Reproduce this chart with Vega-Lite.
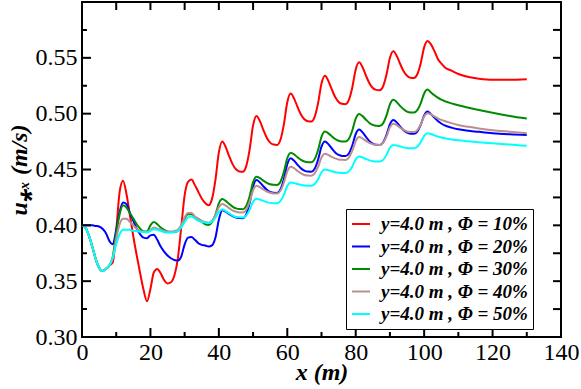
{
  "$schema": "https://vega.github.io/schema/vega-lite/v6.json",
  "width": 479,
  "height": 335,
  "autosize": "none",
  "padding": {"left": 82, "top": 2, "right": 20, "bottom": 52},
  "background": "white",
  "config": {
    "view": {"stroke": "black", "strokeWidth": 2},
    "font": "Liberation Serif",
    "scale": {"continuousPadding": 0},
    "axis": {"grid": false, "domain": false, "ticks": false, "labelColor": "black", "labelFont": "Liberation Serif", "labelFontSize": 24, "titleColor": "black", "titleFont": "Liberation Serif", "titleFontSize": 24, "titleFontWeight": "bold", "titleFontStyle": "italic"}
  },
  "datasets": {
    "series": [
      {"x":0,"p10":0.400,"p20":0.400,"p30":0.400,"p40":0.400,"p50":0.400},
      {"x":1,"p10":0.398,"p20":0.400,"p30":0.398,"p40":0.398,"p50":0.398},
      {"x":2,"p10":0.391,"p20":0.400,"p30":0.391,"p40":0.391,"p50":0.391},
      {"x":3,"p10":0.381,"p20":0.400,"p30":0.381,"p40":0.381,"p50":0.381},
      {"x":4,"p10":0.370,"p20":0.3995,"p30":0.370,"p40":0.370,"p50":0.370},
      {"x":5,"p10":0.362,"p20":0.399,"p30":0.362,"p40":0.362,"p50":0.362},
      {"x":6,"p10":0.359,"p20":0.397,"p30":0.359,"p40":0.359,"p50":0.359},
      {"x":7,"p10":0.361,"p20":0.393,"p30":0.361,"p40":0.361,"p50":0.361},
      {"x":8,"p10":0.364,"p20":0.386,"p30":0.364,"p40":0.364,"p50":0.364},
      {"x":9,"p10":0.367,"p20":0.383,"p30":0.372,"p40":0.371,"p50":0.371},
      {"x":10,"p10":0.395,"p20":0.396,"p30":0.393,"p40":0.388,"p50":0.383},
      {"x":11,"p10":0.430,"p20":0.412,"p30":0.410,"p40":0.401,"p50":0.392},
      {"x":12,"p10":0.440,"p20":0.4205,"p30":0.418,"p40":0.406,"p50":0.396},
      {"x":13,"p10":0.428,"p20":0.419,"p30":0.416,"p40":0.406,"p50":0.396},
      {"x":14,"p10":0.409,"p20":0.411,"p30":0.411,"p40":0.403,"p50":0.396},
      {"x":15,"p10":0.390,"p20":0.404,"p30":0.406,"p40":0.400,"p50":0.395},
      {"x":16,"p10":0.373,"p20":0.397,"p30":0.401,"p40":0.397,"p50":0.395},
      {"x":17,"p10":0.357,"p20":0.392,"p30":0.397,"p40":0.395,"p50":0.394},
      {"x":18,"p10":0.342,"p20":0.389,"p30":0.3945,"p40":0.394,"p50":0.394},
      {"x":19,"p10":0.332,"p20":0.3885,"p30":0.3945,"p40":0.394,"p50":0.3935},
      {"x":20,"p10":0.343,"p20":0.391,"p30":0.400,"p40":0.396,"p50":0.395},
      {"x":21,"p10":0.358,"p20":0.3915,"p30":0.403,"p40":0.398,"p50":0.3965},
      {"x":22,"p10":0.361,"p20":0.387,"p30":0.401,"p40":0.397,"p50":0.396},
      {"x":23,"p10":0.357,"p20":0.381,"p30":0.398,"p40":0.396,"p50":0.395},
      {"x":24,"p10":0.351,"p20":0.3765,"p30":0.396,"p40":0.395,"p50":0.394},
      {"x":25,"p10":0.348,"p20":0.373,"p30":0.3945,"p40":0.3945,"p50":0.3935},
      {"x":26,"p10":0.349,"p20":0.3705,"p30":0.394,"p40":0.3945,"p50":0.3935},
      {"x":27,"p10":0.355,"p20":0.369,"p30":0.394,"p40":0.395,"p50":0.394},
      {"x":28,"p10":0.370,"p20":0.3685,"p30":0.395,"p40":0.396,"p50":0.395},
      {"x":29,"p10":0.398,"p20":0.372,"p30":0.399,"p40":0.400,"p50":0.398},
      {"x":30,"p10":0.427,"p20":0.383,"p30":0.406,"p40":0.407,"p50":0.403},
      {"x":31,"p10":0.439,"p20":0.389,"p30":0.410,"p40":0.411,"p50":0.407},
      {"x":32,"p10":0.441,"p20":0.3895,"p30":0.410,"p40":0.411,"p50":0.408},
      {"x":33,"p10":0.436,"p20":0.387,"p30":0.4075,"p40":0.408,"p50":0.406},
      {"x":34,"p10":0.430,"p20":0.384,"p30":0.405,"p40":0.406,"p50":0.404},
      {"x":35,"p10":0.424,"p20":0.3825,"p30":0.403,"p40":0.404,"p50":0.403},
      {"x":36,"p10":0.420,"p20":0.382,"p30":0.401,"p40":0.403,"p50":0.4025},
      {"x":37,"p10":0.418,"p20":0.381,"p30":0.4004,"p40":0.4024,"p50":0.402},
      {"x":38,"p10":0.4237,"p20":0.382,"p30":0.4027,"p40":0.4041,"p50":0.4032},
      {"x":39,"p10":0.4408,"p20":0.389,"p30":0.4096,"p40":0.409,"p50":0.4068},
      {"x":40,"p10":0.4653,"p20":0.405,"p30":0.4196,"p40":0.4162,"p50":0.4120},
      {"x":41,"p10":0.475,"p20":0.4135,"p30":0.4235,"p40":0.419,"p50":0.4141},
      {"x":42,"p10":0.4701,"p20":0.4122,"p30":0.4219,"p40":0.4177,"p50":0.4128},
      {"x":43,"p10":0.462,"p20":0.4101,"p30":0.4192,"p40":0.4154,"p50":0.4107},
      {"x":44,"p10":0.4548,"p20":0.4082,"p30":0.4168,"p40":0.4134,"p50":0.4088},
      {"x":45,"p10":0.4502,"p20":0.4070,"p30":0.4152,"p40":0.4121,"p50":0.4075},
      {"x":46,"p10":0.4483,"p20":0.4065,"p30":0.4146,"p40":0.4116,"p50":0.4072},
      {"x":47,"p10":0.448,"p20":0.4064,"p30":0.4145,"p40":0.4115,"p50":0.4071},
      {"x":48,"p10":0.453,"p20":0.4098,"p30":0.4174,"p40":0.4139,"p50":0.4088},
      {"x":49,"p10":0.468,"p20":0.420,"p30":0.4261,"p40":0.4211,"p50":0.4138},
      {"x":50,"p10":0.4895,"p20":0.4347,"p30":0.4387,"p40":0.4314,"p50":0.4210},
      {"x":51,"p10":0.498,"p20":0.4405,"p30":0.4436,"p40":0.4355,"p50":0.4238},
      {"x":52,"p10":0.4933,"p20":0.4384,"p30":0.4423,"p40":0.4342,"p50":0.4231},
      {"x":53,"p10":0.4855,"p20":0.4350,"p30":0.4400,"p40":0.4321,"p50":0.4219},
      {"x":54,"p10":0.4785,"p20":0.4319,"p30":0.4381,"p40":0.4303,"p50":0.4208},
      {"x":55,"p10":0.4741,"p20":0.4299,"p30":0.4368,"p40":0.4291,"p50":0.4201},
      {"x":56,"p10":0.4723,"p20":0.4291,"p30":0.4363,"p40":0.4286,"p50":0.4198},
      {"x":57,"p10":0.472,"p20":0.429,"p30":0.4362,"p40":0.4285,"p50":0.4198},
      {"x":58,"p10":0.4766,"p20":0.4321,"p30":0.4391,"p40":0.4309,"p50":0.4217},
      {"x":59,"p10":0.4904,"p20":0.4414,"p30":0.4477,"p40":0.4381,"p50":0.4272},
      {"x":60,"p10":0.5102,"p20":0.4547,"p30":0.4601,"p40":0.4484,"p50":0.4352},
      {"x":61,"p10":0.518,"p20":0.460,"p30":0.465,"p40":0.4525,"p50":0.4383},
      {"x":62,"p10":0.5135,"p20":0.4578,"p30":0.4635,"p40":0.4511,"p50":0.4378},
      {"x":63,"p10":0.506,"p20":0.4542,"p30":0.4609,"p40":0.4487,"p50":0.437},
      {"x":64,"p10":0.4993,"p20":0.451,"p30":0.4586,"p40":0.4465,"p50":0.4362},
      {"x":65,"p10":0.495,"p20":0.449,"p30":0.4572,"p40":0.4451,"p50":0.4357},
      {"x":66,"p10":0.4933,"p20":0.4481,"p30":0.4566,"p40":0.4446,"p50":0.4355},
      {"x":67,"p10":0.493,"p20":0.448,"p30":0.4565,"p40":0.4445,"p50":0.4355},
      {"x":68,"p10":0.4971,"p20":0.4507,"p30":0.4593,"p40":0.4465,"p50":0.437},
      {"x":69,"p10":0.5094,"p20":0.4588,"p30":0.4675,"p40":0.4523,"p50":0.4413},
      {"x":70,"p10":0.527,"p20":0.4704,"p30":0.4793,"p40":0.4607,"p50":0.4475},
      {"x":71,"p10":0.534,"p20":0.475,"p30":0.484,"p40":0.464,"p50":0.450},
      {"x":72,"p10":0.5294,"p20":0.4727,"p30":0.4824,"p40":0.463,"p50":0.4494},
      {"x":73,"p10":0.5218,"p20":0.4688,"p30":0.4797,"p40":0.4614,"p50":0.4485},
      {"x":74,"p10":0.5149,"p20":0.4653,"p30":0.4773,"p40":0.46,"p50":0.4476},
      {"x":75,"p10":0.5105,"p20":0.463,"p30":0.4757,"p40":0.459,"p50":0.4471},
      {"x":76,"p10":0.5088,"p20":0.4621,"p30":0.4751,"p40":0.4587,"p50":0.4468},
      {"x":77,"p10":0.5085,"p20":0.462,"p30":0.475,"p40":0.4586,"p50":0.4468},
      {"x":78,"p10":0.5123,"p20":0.4644,"p30":0.4775,"p40":0.4606,"p50":0.4483},
      {"x":79,"p10":0.5235,"p20":0.4715,"p30":0.4849,"p40":0.4668,"p50":0.4527},
      {"x":80,"p10":0.5396,"p20":0.4818,"p30":0.4955,"p40":0.4755,"p50":0.4591},
      {"x":81,"p10":0.546,"p20":0.4858,"p30":0.4997,"p40":0.479,"p50":0.4616},
      {"x":82,"p10":0.5415,"p20":0.4833,"p30":0.4978,"p40":0.4777,"p50":0.4608},
      {"x":83,"p10":0.534,"p20":0.4792,"p30":0.4946,"p40":0.4756,"p50":0.4594},
      {"x":84,"p10":0.5273,"p20":0.4754,"p30":0.4917,"p40":0.4738,"p50":0.4582},
      {"x":85,"p10":0.523,"p20":0.4731,"p30":0.4899,"p40":0.4726,"p50":0.4575},
      {"x":86,"p10":0.5213,"p20":0.4721,"p30":0.4891,"p40":0.4721,"p50":0.4571},
      {"x":87,"p10":0.521,"p20":0.472,"p30":0.489,"p40":0.472,"p50":0.4571},
      {"x":88,"p10":0.5245,"p20":0.4742,"p30":0.4913,"p40":0.4739,"p50":0.4586},
      {"x":89,"p10":0.535,"p20":0.481,"p30":0.4984,"p40":0.4796,"p50":0.4631},
      {"x":90,"p10":0.5501,"p20":0.4906,"p30":0.5084,"p40":0.4878,"p50":0.4695},
      {"x":91,"p10":0.556,"p20":0.4944,"p30":0.5124,"p40":0.491,"p50":0.472},
      {"x":92,"p10":0.5517,"p20":0.4922,"p30":0.5103,"p40":0.4897,"p50":0.4715},
      {"x":93,"p10":0.5445,"p20":0.4884,"p30":0.5069,"p40":0.4874,"p50":0.4706},
      {"x":94,"p10":0.538,"p20":0.4851,"p30":0.5039,"p40":0.4854,"p50":0.4698},
      {"x":95,"p10":0.5339,"p20":0.483,"p30":0.5019,"p40":0.4841,"p50":0.4692},
      {"x":96,"p10":0.5322,"p20":0.4821,"p30":0.5011,"p40":0.4836,"p50":0.469},
      {"x":97,"p10":0.532,"p20":0.482,"p30":0.501,"p40":0.4835,"p50":0.469},
      {"x":98,"p10":0.5353,"p20":0.484,"p30":0.5031,"p40":0.4852,"p50":0.4704},
      {"x":99,"p10":0.5452,"p20":0.490,"p30":0.5092,"p40":0.4903,"p50":0.4744},
      {"x":100,"p10":0.5594,"p20":0.4985,"p30":0.5181,"p40":0.4975,"p50":0.4802},
      {"x":101,"p10":0.565,"p20":0.5019,"p30":0.5216,"p40":0.5004,"p50":0.4825},
      {"x":102,"p10":0.562,"p20":0.4995,"p30":0.519,"p40":0.4993,"p50":0.4818},
      {"x":103,"p10":0.556,"p20":0.4965,"p30":0.5165,"p40":0.4975,"p50":0.4806},
      {"x":104,"p10":0.549,"p20":0.4935,"p30":0.5143,"p40":0.4958,"p50":0.4795},
      {"x":105,"p10":0.545,"p20":0.4912,"p30":0.5125,"p40":0.4945,"p50":0.4786},
      {"x":106,"p10":0.5415,"p20":0.4895,"p30":0.5112,"p40":0.4934,"p50":0.4779},
      {"x":108,"p10":0.5385,"p20":0.4875,"p30":0.5092,"p40":0.4915,"p50":0.4769},
      {"x":110,"p10":0.5355,"p20":0.486,"p30":0.5075,"p40":0.4898,"p50":0.4761},
      {"x":113,"p10":0.5328,"p20":0.4847,"p30":0.5053,"p40":0.4882,"p50":0.4752},
      {"x":116,"p10":0.5313,"p20":0.4837,"p30":0.5033,"p40":0.4868,"p50":0.4744},
      {"x":120,"p10":0.5303,"p20":0.4825,"p30":0.5008,"p40":0.4852,"p50":0.4735},
      {"x":125,"p10":0.5303,"p20":0.4816,"p30":0.498,"p40":0.4838,"p50":0.4723},
      {"x":130,"p10":0.5309,"p20":0.481,"p30":0.4956,"p40":0.4825,"p50":0.4712}
    ],
    "xmaj": [{"t":20},{"t":40},{"t":60},{"t":80},{"t":100},{"t":120}],
    "xmin": [{"t":10},{"t":30},{"t":50},{"t":70},{"t":90},{"t":110},{"t":130}],
    "xall": [{"t":10},{"t":20},{"t":30},{"t":40},{"t":50},{"t":60},{"t":70},{"t":80},{"t":90},{"t":100},{"t":110},{"t":120},{"t":130}],
    "ymaj": [{"t":0.35},{"t":0.4},{"t":0.45},{"t":0.5},{"t":0.55}],
    "ymin": [{"t":0.325},{"t":0.375},{"t":0.425},{"t":0.475},{"t":0.525},{"t":0.575}],
    "yall": [{"t":0.325},{"t":0.35},{"t":0.375},{"t":0.4},{"t":0.425},{"t":0.45},{"t":0.475},{"t":0.5},{"t":0.525},{"t":0.55},{"t":0.575}]
  },
  "layer": [
    {
      "data": {"name": "series"},
      "transform": [{"fold": ["p10", "p20", "p30", "p40", "p50"], "as": ["series", "u"]}],
      "mark": {"type": "line", "interpolate": "monotone", "strokeWidth": 2},
      "encoding": {
        "x": {"field": "x", "type": "quantitative", "title": "x (m)", "scale": {"domain": [0, 140], "nice": false, "padding": 0},
              "axis": {"orient": "bottom", "values": [0, 20, 40, 60, 80, 100, 120, 140], "labelPadding": 3, "labelFlush": false, "titleY": 23, "titleBaseline": "top"}},
        "y": {"field": "u", "type": "quantitative", "title": "u⁎ₓ (m/s)", "scale": {"domain": [0.3, 0.6], "nice": false, "zero": false, "padding": 0},
              "axis": {"orient": "left", "values": [0.3, 0.35, 0.4, 0.45, 0.5, 0.55], "format": ".2f", "labelPadding": 5, "labelFlush": false, "titlePadding": 4}},
        "color": {"field": "series", "type": "nominal",
                  "scale": {"domain": ["p10", "p20", "p30", "p40", "p50"], "range": ["#ff0000", "#0000ff", "#008b00", "#bc8f8f", "#00ffff"]},
                  "legend": {"title": null, "orient": "none", "legendX": 264, "legendY": 207,
                             "labelExpr": "'y=4.0 m , Φ = ' + substring(datum.label, 1) + '%'",
                             "labelFont": "Liberation Serif", "labelFontSize": 19, "labelFontWeight": "bold", "labelFontStyle": "italic", "labelColor": "black", "labelLimit": 300,
                             "symbolType": "stroke", "symbolStrokeWidth": 2, "symbolSize": 324, "labelOffset": 10,
                             "strokeColor": "black", "fillColor": "white", "padding": 5, "rowPadding": 2.5}}
      }
    },
    {
      "data": {"name": "xmaj"},
      "mark": {"type": "tick", "orient": "vertical", "thickness": 2, "size": 9, "color": "black", "opacity": 1},
      "encoding": {
        "x": {"field": "t", "type": "quantitative", "title": "x (m)", "scale": {"domain": [0, 140], "nice": false, "padding": 0}},
        "y": {"datum": 0.30403, "type": "quantitative", "title": "u⁎ₓ (m/s)", "scale": {"domain": [0.3, 0.6], "nice": false, "zero": false, "padding": 0}}
      }
    },
    {
      "data": {"name": "xmin"},
      "mark": {"type": "tick", "orient": "vertical", "thickness": 2, "size": 5, "color": "black", "opacity": 1},
      "encoding": {
        "x": {"field": "t", "type": "quantitative", "title": "x (m)", "scale": {"domain": [0, 140], "nice": false, "padding": 0}},
        "y": {"datum": 0.30224, "type": "quantitative", "title": "u⁎ₓ (m/s)", "scale": {"domain": [0.3, 0.6], "nice": false, "zero": false, "padding": 0}}
      }
    },
    {
      "data": {"name": "xall"},
      "mark": {"type": "tick", "orient": "vertical", "thickness": 2, "size": 8, "color": "black", "opacity": 1},
      "encoding": {
        "x": {"field": "t", "type": "quantitative", "title": "x (m)", "scale": {"domain": [0, 140], "nice": false, "padding": 0}},
        "y": {"datum": 0.59642, "type": "quantitative", "title": "u⁎ₓ (m/s)", "scale": {"domain": [0.3, 0.6], "nice": false, "zero": false, "padding": 0}}
      }
    },
    {
      "data": {"name": "ymaj"},
      "mark": {"type": "tick", "orient": "horizontal", "thickness": 2, "size": 9, "color": "black", "opacity": 1},
      "encoding": {
        "y": {"field": "t", "type": "quantitative", "title": "u⁎ₓ (m/s)", "scale": {"domain": [0.3, 0.6], "nice": false, "zero": false, "padding": 0}},
        "x": {"datum": 1.315, "type": "quantitative", "title": "x (m)", "scale": {"domain": [0, 140], "nice": false, "padding": 0}}
      }
    },
    {
      "data": {"name": "ymin"},
      "mark": {"type": "tick", "orient": "horizontal", "thickness": 2, "size": 5, "color": "black", "opacity": 1},
      "encoding": {
        "y": {"field": "t", "type": "quantitative", "title": "u⁎ₓ (m/s)", "scale": {"domain": [0.3, 0.6], "nice": false, "zero": false, "padding": 0}},
        "x": {"datum": 0.731, "type": "quantitative", "title": "x (m)", "scale": {"domain": [0, 140], "nice": false, "padding": 0}}
      }
    },
    {
      "data": {"name": "yall"},
      "mark": {"type": "tick", "orient": "horizontal", "thickness": 2, "size": 8, "color": "black", "opacity": 1},
      "encoding": {
        "y": {"field": "t", "type": "quantitative", "title": "u⁎ₓ (m/s)", "scale": {"domain": [0.3, 0.6], "nice": false, "zero": false, "padding": 0}},
        "x": {"datum": 138.83, "type": "quantitative", "title": "x (m)", "scale": {"domain": [0, 140], "nice": false, "padding": 0}}
      }
    }
  ]
}
